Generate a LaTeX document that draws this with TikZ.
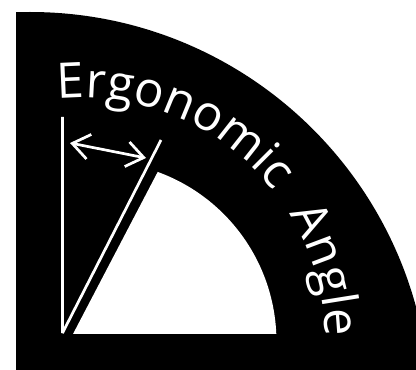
\documentclass[tikz,border=0pt]{standalone}
\usepackage{fontspec}
\setmainfont{Open Sans}
\usetikzlibrary{arrows.meta,decorations.text}
\begin{document}
\begin{tikzpicture}[x=1pt,y=1pt,
  mark line/.style={draw=white,line width=2.7pt},
  both barbs/.style={{Straight Barb[length=17pt,width=25pt]}-{Straight Barb[length=17pt,width=25pt]}},
  arc label/.style={decorate,decoration={text along path,text align={fit to path},text={|\fontsize{49}{49}\selectfont\color{white}|#1}}}]
\useasboundingbox (0,0) rectangle (416,370);
\fill[white] (0,0) rectangle (416,370);
\begin{scope}
  \clip (16,0) rectangle (416,358);
  \fill[black] (30,-42) circle[radius=400];
\end{scope}
\fill[white] (73,36) -- (276.3,36) arc[start angle=2.4,end angle=70,radius=180.5] -- cycle;
\coordinate (top) at (62.5,253);
\coordinate (apex) at (62.5,37);
\coordinate (tip) at (161,230);
\coordinate (aL) at (70,227);
\coordinate (aR) at (146,212);
\draw[mark line,line join=bevel] (top) -- (apex) -- (tip);
\draw[mark line,both barbs] (aL) -- (aR);
\path[arc label={Ergonomic}] (58,271) arc[start angle=95.7,end angle=38,radius=243];
\path[arc label={Angle}] (289.3,156.3) arc[start angle=31.6,end angle=1,radius=243];
\end{tikzpicture}
\end{document}
